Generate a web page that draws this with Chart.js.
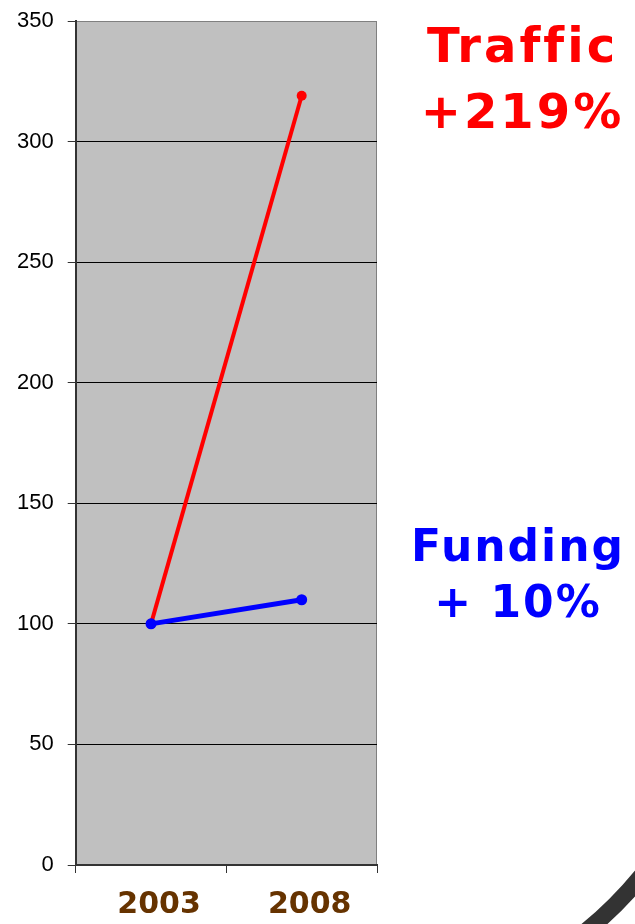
<!DOCTYPE html>
<html>
<head>
<meta charset="utf-8">
<script src="https://cdn.jsdelivr.net/npm/chart.js@4/dist/chart.umd.min.js"></script>
<style>
  html, body { margin: 0; padding: 0; background: #fff; }
  #wrap { width: 635px; height: 924px; position: relative; }
</style>
</head>
<body>
<div id="wrap"><canvas id="c"></canvas></div>
<script>
const years = ['2003', '2008'];
const traffic = [100, 319];
const funding = [100, 110];
const notes = [
  { lines: ['Traffic', '+219%'], color: '#ff0000', x: 521, y: [50, 116], size: 48, spacing: 3 },
  { lines: ['Funding', '+ 10%'], color: '#0000ff', x: 517, y: [550, 606], size: 44, spacing: 2 }
];

// slide background: grey plot, notes, decorative arc
const slidePlugin = {
  id: 'slide',
  beforeDraw(chart) {
    const { ctx, chartArea: a } = chart;
    ctx.save();
    ctx.fillStyle = '#c0c0c0';
    ctx.fillRect(a.left, a.top, a.right - a.left, a.bottom - a.top);
    ctx.strokeStyle = '#808080';
    ctx.lineWidth = 1;
    ctx.strokeRect(a.left + 0.5, a.top + 0.5, a.right - a.left - 1, a.bottom - a.top);
    ctx.restore();
  },
  afterDraw(chart) {
    const ctx = chart.ctx;
    ctx.save();
    ctx.textAlign = 'center';
    ctx.textBaseline = 'middle';
    notes.forEach(n => {
      ctx.font = 'bold ' + n.size + 'px "DejaVu Sans"';
      ctx.letterSpacing = n.spacing + 'px';
      ctx.fillStyle = n.color;
      n.lines.forEach((t, i) => ctx.fillText(t, n.x + n.spacing / 2, n.y[i]));
    });
    ctx.strokeStyle = '#333333';
    ctx.lineWidth = 17;
    ctx.beginPath();
    ctx.arc(330, 620, 403, 0.5, 0.95);
    ctx.stroke();
    ctx.restore();
  }
};

new Chart(document.getElementById('c'), {
  type: 'line',
  data: {
    labels: years,
    datasets: [
      {
        label: 'Traffic',
        data: traffic,
        borderColor: '#ff0000',
        backgroundColor: '#ff0000',
        borderWidth: 4,
        pointRadius: 5,
        pointBorderWidth: 0,
        tension: 0,
        order: 1
      },
      {
        label: 'Funding',
        data: funding,
        borderColor: '#0000ff',
        backgroundColor: '#0000ff',
        borderWidth: 5,
        pointRadius: 5.5,
        pointBorderWidth: 0,
        tension: 0,
        order: 0
      }
    ]
  },
  options: {
    responsive: true,
    maintainAspectRatio: false,
    animation: false,
    layout: { padding: { left: 3, right: 258, top: 0, bottom: -13 } },
    plugins: { legend: { display: false }, tooltip: { enabled: false } },
    scales: {
      x: {
        offset: true,
        grid: {
          offset: true,
          drawOnChartArea: false,
          drawTicks: true,
          tickLength: 8,
          color: '#333333'
        },
        border: { color: '#333333', width: 2 },
        ticks: {
          color: '#663300',
          font: { family: '"DejaVu Sans"', size: 30, weight: 'bold' },
          padding: 14,
          labelOffset: 8
        }
      },
      y: {
        min: 0,
        max: 350,
        afterFit(scale) { scale.paddingTop = 21; },
        grid: {
          color: ctx => (ctx.tick && ctx.tick.value === 350 ? '#808080' : '#000000'),
          tickColor: '#333333',
          tickLength: 8,
          lineWidth: 1
        },
        border: { color: '#333333', width: 2 },
        ticks: {
          stepSize: 50,
          color: '#000000',
          font: { family: '"Liberation Sans", Arial', size: 22 },
          padding: 14
        }
      }
    }
  },
  plugins: [slidePlugin]
});
</script>
</body>
</html>
